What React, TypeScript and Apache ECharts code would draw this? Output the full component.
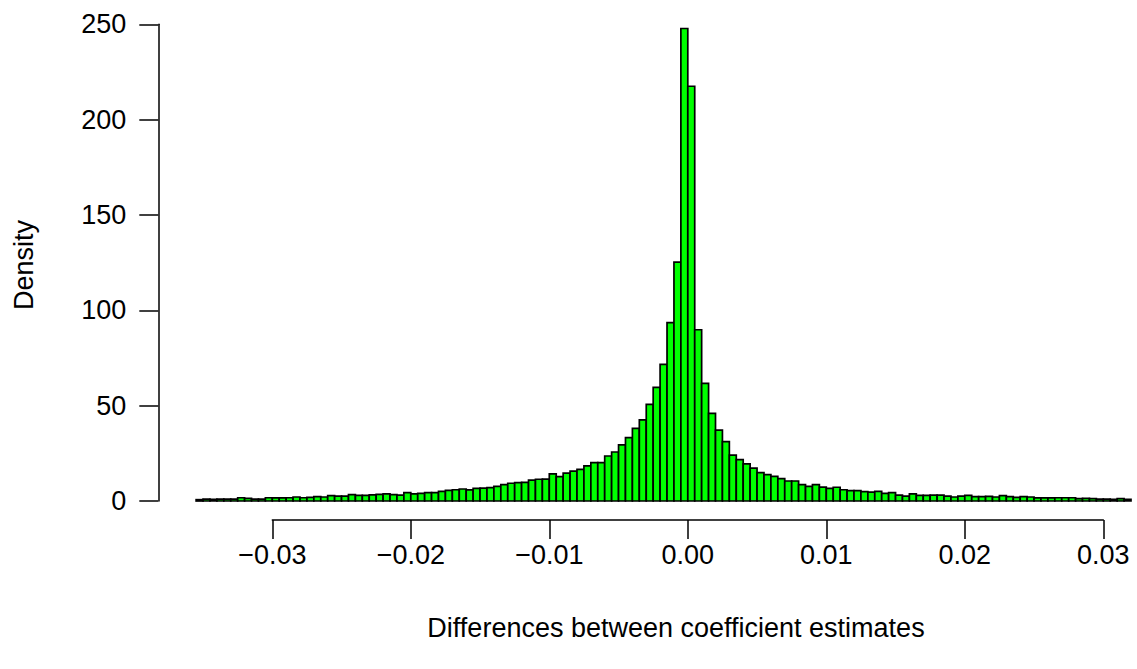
import React, { useEffect, useRef } from "react";
import * as echarts from "echarts";

// Histogram bins: start of first bin and width of each bin
const BIN_START = -0.0355;
const BIN_WIDTH = 0.0005;

// Density of each bin, left to right
const densities: number[] = [
  0.7, 1.0, 0.9, 1.0, 1.0, 1.0, 1.7, 1.4, 1.0, 1.0,
  1.7, 1.6, 1.6, 1.7, 2.1, 1.7, 1.9, 2.3, 2.1, 2.8,
  2.6, 2.6, 3.3, 3.0, 3.0, 3.2, 3.5, 3.7, 3.3, 3.1,
  4.4, 3.7, 4.0, 4.4, 4.4, 5.1, 5.6, 5.9, 6.3, 5.8,
  6.6, 6.8, 7.0, 7.7, 8.6, 9.3, 9.6, 9.8, 11.0, 11.4,
  11.5, 14.2, 12.8, 14.6, 15.7, 16.6, 18.4, 20.1, 20.1, 23.6,
  25.7, 29.4, 33.2, 38.1, 42.5, 50.7, 59.6, 71.7, 93.5, 125.3,
  247.8, 217.5, 89.8, 61.7, 46.0, 37.2, 31.1, 24.1, 21.7, 19.5,
  17.2, 14.9, 13.8, 12.9, 11.7, 10.5, 10.5, 8.6, 7.7, 8.6,
  7.3, 6.6, 7.2, 5.9, 5.4, 5.4, 4.9, 4.7, 5.1, 4.0,
  4.4, 3.1, 2.6, 3.7, 3.0, 3.0, 3.1, 3.1, 2.6, 2.1,
  2.6, 3.0, 2.3, 2.3, 2.4, 2.1, 2.8, 2.3, 1.9, 2.3,
  2.1, 1.6, 1.6, 1.6, 1.7, 1.7, 1.7, 1.2, 1.4, 1.2,
  1.0, 1.0, 0.9, 1.2, 0.9,
];

// Axis ranges and labels
const X_MIN = -0.03;
const X_MAX = 0.03;
const X_STEP = 0.01;
const Y_MIN = 0;
const Y_MAX = 250;
const Y_STEP = 50;
const X_TITLE = "Differences between coefficient estimates";
const Y_TITLE = "Density";

const FONT = "'Liberation Sans', Arial, Helvetica, sans-serif";
const FS = 27;

export default function App() {
  const ref = useRef<HTMLDivElement>(null);

  useEffect(() => {
    if (!ref.current) return;
    const chart = echarts.init(ref.current, null, { renderer: "svg" });

    const data = densities.map((d, i) => [
      BIN_START + i * BIN_WIDTH,
      BIN_START + (i + 1) * BIN_WIDTH,
      d,
    ]);

    const fmt = (v: number) => {
      if (Math.abs(v) < 1e-9) return "0.00";
      const s = Math.abs(v).toFixed(2);
      return v < 0 ? "\u2212" + s : s;
    };

    chart.setOption({
      animation: false,
      backgroundColor: "#ffffff",
      textStyle: { fontFamily: FONT },
      grid: { left: 272.3, right: 33.7, top: 24.3, bottom: 168, containLabel: false },
      xAxis: {
        type: "value",
        min: X_MIN,
        max: X_MAX,
        interval: X_STEP,
        offset: 19,
        axisLine: { show: true, onZero: false, lineStyle: { color: "#000", width: 1.5 } },
        axisTick: { show: true, length: 19, lineStyle: { color: "#000", width: 1.5 } },
        axisLabel: {
          color: "#000",
          fontSize: FS,
          fontFamily: FONT,
          margin: 21,
          formatter: fmt,
        },
        splitLine: { show: false },
      },
      yAxis: {
        type: "value",
        min: Y_MIN,
        max: Y_MAX,
        interval: Y_STEP,
        offset: 114,
        axisLine: { show: true, onZero: false, lineStyle: { color: "#000", width: 1.5 } },
        axisTick: { show: true, length: 19, lineStyle: { color: "#000", width: 1.5 } },
        axisLabel: {
          color: "#000",
          fontSize: FS,
          fontFamily: FONT,
          margin: 32,
        },
        splitLine: { show: false },
      },
      graphic: [
        {
          type: "text",
          x: 676,
          y: 628,
          style: {
            text: X_TITLE,
            fill: "#000",
            font: `${FS}px ${FONT}`,
            textAlign: "center",
            textVerticalAlign: "middle",
          },
        },
        {
          type: "text",
          x: 24,
          y: 265,
          rotation: Math.PI / 2,
          style: {
            text: Y_TITLE,
            fill: "#000",
            font: `${FS}px ${FONT}`,
            textAlign: "center",
            textVerticalAlign: "middle",
          },
        },
      ],
      series: [
        {
          type: "custom",
          clip: false,
          encode: { x: [0, 1], y: 2 },
          data,
          renderItem: (params: any, api: any) => {
            const x0 = api.value(0);
            const x1 = api.value(1);
            const h = api.value(2);
            const p0 = api.coord([x0, h]);
            const p1 = api.coord([x1, 0]);
            return {
              type: "rect",
              shape: {
                x: p0[0],
                y: p0[1],
                width: p1[0] - p0[0],
                height: p1[1] - p0[1],
              },
              style: { fill: "#00ff00", stroke: "#000", lineWidth: 1.7 },
            };
          },
        },
      ],
    });

    return () => chart.dispose();
  }, []);

  return (
    <div
      ref={ref}
      style={{ position: "absolute", left: 0, top: 0, width: 1137, height: 669 }}
    />
  );
}
